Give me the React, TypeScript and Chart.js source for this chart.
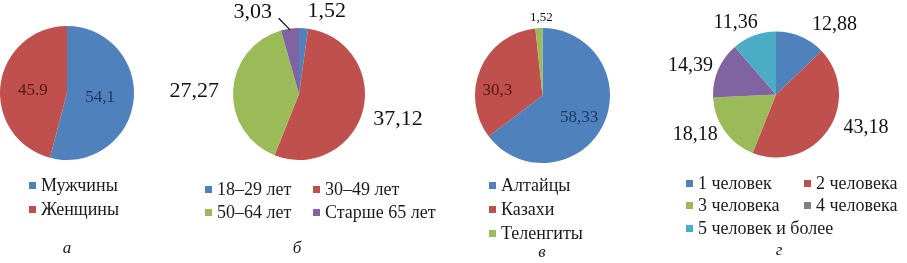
import React, { useEffect, useRef } from "react";
import { Chart, registerables } from "chart.js";
Chart.register(...registerables);

// ---------- DATA ----------
const genderLabels = ["Мужчины", "Женщины"];
const genderValues = [54.1, 45.9];
const genderValueText = ["54,1", "45.9"];

const ageLabels = ["18–29 лет", "30–49 лет", "50–64 лет", "Старше 65 лет"];
const ageValues = [1.52, 37.12, 27.27, 3.03];
const ageValueText = ["1,52", "37,12", "27,27", "3,03"];

const ethnicLabels = ["Алтайцы", "Казахи", "Теленгиты"];
const ethnicValues = [58.33, 30.3, 1.52];
const ethnicValueText = ["58,33", "30,3", "1,52"];

const familyLabels = ["1 человек", "2 человека", "3 человека", "4 человека", "5 человек и более"];
const familyValues = [12.88, 43.18, 18.18, 14.39, 11.36];
const familyValueText = ["12,88", "43,18", "18,18", "14,39", "11,36"];

const captions = ["а", "б", "в", "г"];

// ---------- STYLE ----------
const BLUE = "#4F81BD";
const RED = "#C0504D";
const GREEN = "#9BBB59";
const PURPLE = "#8064A2";
const CYAN = "#4BACC6";
const GRAY = "#7F7F7F";
const SERIF = '"Liberation Serif", "Times New Roman", serif';
const CW = 907;
const CH = 175;

type LabelStyle = { dist: number; dx: number; dy: number; size: number; color: string; leader?: { dx: number; dy: number } };

const valueLabelPlugin = {
  id: "valueLabels",
  afterDatasetsDraw(chart: any, _args: any, opts: any) {
    const meta = chart.getDatasetMeta(0);
    const ctx = chart.ctx as CanvasRenderingContext2D;
    const texts: string[] = opts.texts;
    const styles: LabelStyle[] = opts.styles;
    texts.forEach((t, i) => {
      const arc = meta.data[i];
      if (!arc) return;
      const p = arc.getProps(["x", "y", "startAngle", "endAngle", "outerRadius"], true);
      const mid = (p.startAngle + p.endAngle) / 2;
      const s = styles[i];
      const d = p.outerRadius * s.dist;
      const lx = p.x + Math.cos(mid) * d + s.dx;
      const ly = p.y + Math.sin(mid) * d + s.dy;
      ctx.save();
      ctx.font = `${s.size}px ${SERIF}`;
      ctx.fillStyle = s.color;
      ctx.textAlign = "center";
      ctx.textBaseline = "middle";
      ctx.fillText(t, lx, ly);
      if (s.leader) {
        ctx.strokeStyle = "#111";
        ctx.lineWidth = 1.2;
        ctx.beginPath();
        ctx.moveTo(p.x + Math.cos(mid) * p.outerRadius * 0.98, p.y + Math.sin(mid) * p.outerRadius * 0.98);
        ctx.lineTo(lx + s.leader.dx, ly + s.leader.dy);
        ctx.stroke();
      }
      ctx.restore();
    });
  },
};

type PieSpec = {
  values: number[];
  colors: string[];
  cx: number;
  cy: number;
  r: number;
  texts: string[];
  styles: LabelStyle[];
};

function PieCanvas({ spec }: { spec: PieSpec }) {
  const ref = useRef<HTMLCanvasElement>(null);
  useEffect(() => {
    if (!ref.current) return;
    const { cx, cy, r } = spec;
    const chart = new Chart(ref.current, {
      type: "pie",
      data: {
        labels: spec.values.map((_, i) => String(i)),
        datasets: [{ data: spec.values, backgroundColor: spec.colors, borderWidth: 0 }],
      },
      options: {
        responsive: false,
        animation: false,
        events: [],
        radius: r,
        layout: { padding: { left: cx - r, right: CW - cx - r, top: cy - r, bottom: CH - cy - r } },
        plugins: {
          legend: { display: false },
          tooltip: { enabled: false },
          valueLabels: { texts: spec.texts, styles: spec.styles },
        } as any,
      } as any,
      plugins: [valueLabelPlugin as any],
    });
    return () => chart.destroy();
  }, []);
  return (
    <canvas
      ref={ref}
      width={CW}
      height={CH}
      style={{ position: "absolute", left: 0, top: 0, width: CW, height: CH }}
    />
  );
}

type LegendSpec = { left: number; top: number; cols: number[]; rowH: number; labels: string[]; colors: string[] };

function Legend({ spec }: { spec: LegendSpec }) {
  return (
    <div
      style={{
        position: "absolute",
        left: spec.left,
        top: spec.top,
        display: "grid",
        gridTemplateColumns: spec.cols.map((c) => `${c}px`).join(" "),
        fontFamily: SERIF,
        fontSize: 18,
        color: "#1a1a1a",
      }}
    >
      {spec.labels.map((l, i) => (
        <div key={i} style={{ display: "flex", alignItems: "center", height: spec.rowH, whiteSpace: "nowrap" }}>
          <span
            style={{ display: "inline-block", flexShrink: 0, width: 7, height: 7, background: spec.colors[i], marginRight: 5 }}
          />
          <span style={{ flexShrink: 0 }}>{l}</span>
        </div>
      ))}
    </div>
  );
}

const inside = (dist: number, dx: number, dy: number, color: string, size = 15): LabelStyle => ({ dist, dx, dy, size, color });
const outside = (dist: number, dx: number, dy: number, size: number): LabelStyle => ({ dist, dx, dy, size, color: "#111" });

const pies: PieSpec[] = [
  {
    values: genderValues,
    colors: [BLUE, RED],
    cx: 67, cy: 93, r: 67,
    texts: genderValueText,
    styles: [inside(0.5, 0, 0, "#1F3864", 17), inside(0.5, -1, 2, "#5A1414", 17)],
  },
  {
    values: ageValues,
    colors: [BLUE, RED, GREEN, PURPLE],
    cx: 299, cy: 94, r: 66,
    texts: ageValueText,
    styles: [
      outside(1.25, 22, 0, 22),
      outside(1.55, 0, -1, 22),
      outside(1.59, 0, 3, 22),
      { ...outside(1.25, -35, 0, 22), leader: { dx: 26, dy: 6 } },
    ],
  },
  {
    values: ethnicValues,
    colors: [BLUE, RED, GREEN],
    cx: 542.5, cy: 95.5, r: 67.5,
    texts: ethnicValueText,
    styles: [inside(0.64, -2, 3, "#1F3864", 17), inside(0.68, -3, 13, "#5A1414", 17), outside(1.16, 3, 0, 13)],
  },
  {
    values: familyValues,
    colors: [BLUE, RED, GREEN, PURPLE, CYAN],
    cx: 776, cy: 94.5, r: 63,
    texts: familyValueText,
    styles: [
      outside(1.476, 22, 16, 20),
      outside(1.476, 13, -19, 20),
      outside(1.476, -5, -14, 20),
      outside(1.476, 0, 8, 20),
      outside(1.476, -8, 15, 20),
    ],
  },
];

const legends: LegendSpec[] = [
  { left: 29, top: 173, cols: [120], rowH: 24, labels: genderLabels, colors: [BLUE, RED] },
  { left: 205, top: 178, cols: [108, 140], rowH: 23, labels: ageLabels, colors: [BLUE, RED, GREEN, PURPLE] },
  { left: 489, top: 173, cols: [120], rowH: 24, labels: ethnicLabels, colors: [BLUE, RED, GREEN] },
  { left: 686, top: 172, cols: [118, 110], rowH: 22.5, labels: familyLabels, colors: [BLUE, RED, GREEN, GRAY, CYAN] },
];

const captionX = [67, 297, 542, 779];
const captionY = [248, 248, 252, 250];

export default function App() {
  return (
    <div style={{ position: "fixed", left: 0, top: 0, width: CW, height: 263, background: "#fff", overflow: "hidden" }}>
      {pies.map((p, i) => (
        <PieCanvas key={i} spec={p} />
      ))}
      {legends.map((l, i) => (
        <Legend key={i} spec={l} />
      ))}
      {captions.map((c, i) => (
        <div
          key={i}
          style={{
            position: "absolute",
            left: captionX[i] - 20,
            top: captionY[i] - 11,
            width: 40,
            height: 22,
            lineHeight: "22px",
            textAlign: "center",
            fontFamily: SERIF,
            fontStyle: "italic",
            fontSize: 17,
            color: "#1a1a1a",
          }}
        >
          {c}
        </div>
      ))}
    </div>
  );
}
